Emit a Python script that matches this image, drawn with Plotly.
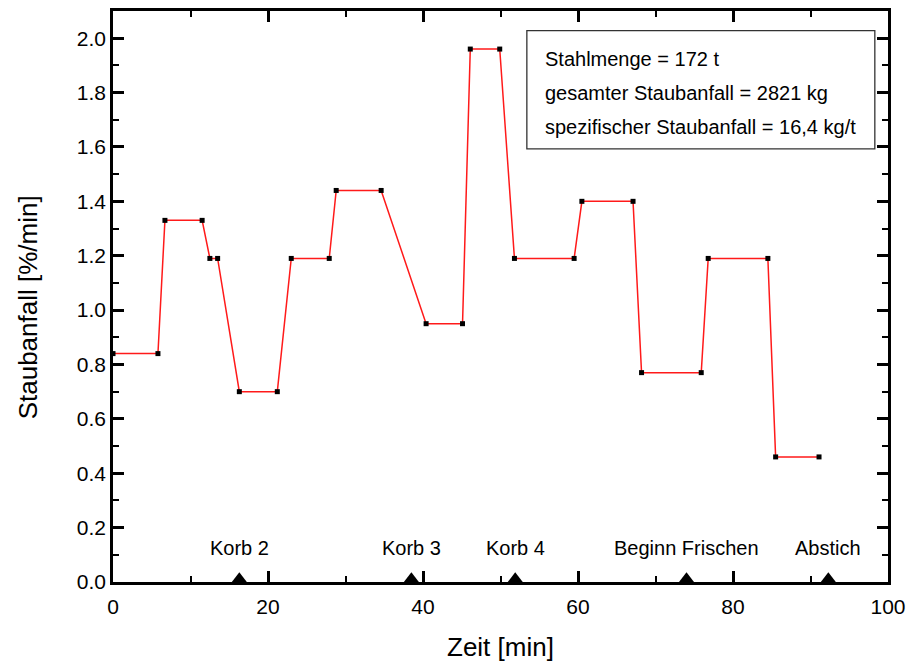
import plotly.graph_objects as go

# Staubanfall über der Zeit (Stufenverlauf)
zeit = [0.0, 5.8, 6.7, 11.5, 12.5, 13.5, 16.3, 21.2, 23.0, 27.9, 28.8, 34.6,
        40.4, 45.1, 46.1, 49.9, 51.8, 59.5, 60.5, 67.1, 68.2, 75.9, 76.8, 84.5,
        85.5, 91.1]
staub = [0.84, 0.84, 1.33, 1.33, 1.19, 1.19, 0.70, 0.70, 1.19, 1.19, 1.44, 1.44,
         0.95, 0.95, 1.96, 1.96, 1.19, 1.19, 1.40, 1.40, 0.77, 0.77, 1.19, 1.19,
         0.46, 0.46]

# Prozessereignisse
ereignis_zeit = [16.3, 38.5, 51.9, 74.0, 92.3]
ereignis_text = ["Korb 2", "Korb 3", "Korb 4", "Beginn Frischen", "Abstich"]

# Kennwerte
info_zeilen = ["Stahlmenge = 172 t",
               "gesamter Staubanfall = 2821 kg",
               "spezifischer Staubanfall = 16,4 kg/t"]

FONT = "Arial, Liberation Sans, sans-serif"

fig = go.Figure()

fig.add_trace(go.Scatter(
    x=zeit, y=staub, mode="lines+markers",
    line=dict(color="#ff1a1a", width=1.5),
    marker=dict(symbol="square", size=5, color="black", line=dict(width=0)),
    showlegend=False,
))

fig.add_trace(go.Scatter(
    x=ereignis_zeit, y=[0.012] * len(ereignis_zeit), mode="markers",
    marker=dict(symbol="triangle-up", size=13, color="black", line=dict(width=0)),
    cliponaxis=False, showlegend=False,
))

for t, txt in zip(ereignis_zeit, ereignis_text):
    fig.add_annotation(x=t, y=0.125, text=txt, showarrow=False,
                       xanchor="center", yanchor="middle",
                       font=dict(family=FONT, size=20, color="black"))

# Kasten mit Kennwerten
fig.add_shape(type="rect", xref="x", yref="y", x0=53.4, x1=98.3, y0=1.593, y1=2.028,
              line=dict(color="#333333", width=1.3), fillcolor="white", layer="above")
for yv, txt in zip([1.924, 1.799, 1.672], info_zeilen):
    fig.add_annotation(x=55.45, y=yv, text=txt, showarrow=False,
                       xanchor="left", yanchor="middle",
                       font=dict(family=FONT, size=20, color="black"))

# Achsentitel
fig.add_annotation(xref="paper", yref="paper", x=0.5, y=0, yshift=-65,
                   text="Zeit [min]", showarrow=False,
                   xanchor="center", yanchor="middle",
                   font=dict(family=FONT, size=26, color="black"))
fig.add_annotation(xref="paper", yref="paper", x=0, xshift=-85, y=0.481,
                   text="Staubanfall [%/min]", showarrow=False, textangle=-90,
                   xanchor="center", yanchor="middle",
                   font=dict(family=FONT, size=26, color="black"))

axis_common = dict(
    showline=True, linecolor="black", linewidth=2.5, mirror="ticks",
    ticks="inside", ticklen=11, tickwidth=2.5, tickcolor="black",
    showgrid=False, zeroline=False, automargin=False,
    tickfont=dict(family=FONT, size=21, color="black"),
)

fig.update_xaxes(
    range=[0, 100], tickvals=[0, 20, 40, 60, 80, 100],
    minor=dict(ticks="inside", ticklen=6, tickwidth=2, tickcolor="black",
               tickvals=[10, 30, 50, 70, 90]),
    ticklabelstandoff=4,
    **axis_common,
)
fig.update_yaxes(
    range=[0, 2.1], tickvals=[0, 0.2, 0.4, 0.6, 0.8, 1.0, 1.2, 1.4, 1.6, 1.8, 2.0],
    tickformat=".1f",
    minor=dict(ticks="inside", ticklen=6, tickwidth=2, tickcolor="black",
               tickvals=[0.1, 0.3, 0.5, 0.7, 0.9, 1.1, 1.3, 1.5, 1.7, 1.9]),
    **axis_common,
)

fig.update_layout(
    width=909, height=662,
    margin=dict(l=113, r=21, t=11, b=80, autoexpand=False),
    plot_bgcolor="white", paper_bgcolor="white",
)

fig.write_html("out.html")
